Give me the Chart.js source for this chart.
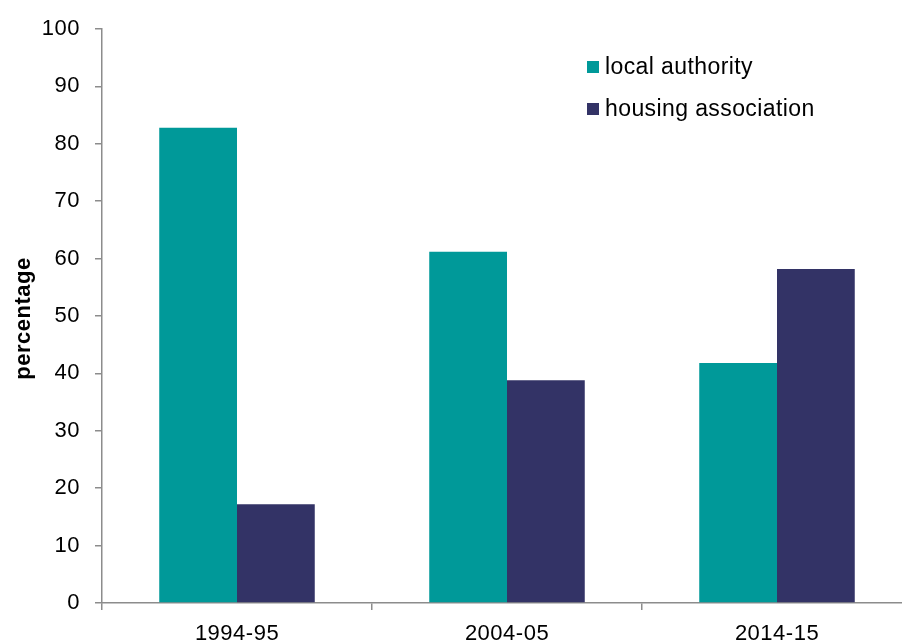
<!DOCTYPE html>
<html>
<head>
<meta charset="utf-8">
<script src="https://cdn.jsdelivr.net/npm/chart.js@4/dist/chart.umd.min.js"></script>
<style>
  html, body { margin: 0; padding: 0; background: #fff; overflow: hidden; }
  #wrap { position: relative; width: 912px; height: 643px; }
</style>
</head>
<body>
<div id="wrap"><canvas id="c"></canvas></div>
<script>
// Share of social rented households by landlord type
const categories = ['1994-95', '2004-05', '2014-15'];
const localAuthority = [82.8, 61.2, 41.8];
const housingAssociation = [17.2, 38.8, 58.2];
const seriesNames = ['local authority', 'housing association'];
const seriesColors = ['#009999', '#333366'];
const yTicks = [0, 10, 20, 30, 40, 50, 60, 70, 80, 90, 100];
const yTitle = 'percentage';

const FONT = 'Liberation Sans, Arial, sans-serif';
const AXIS = '#8c8c8c';

// Slightly open letter spacing for the axis text
const textSpacing = {
  id: 'textSpacing',
  beforeDraw(chart) { chart.ctx.letterSpacing = '0.5px'; }
};

// Legend inside the plot area (upper right) and the rotated y-axis title
const annotations = {
  id: 'annotations',
  afterDraw(chart) {
    const ctx = chart.ctx;
    ctx.save();
    ctx.letterSpacing = '0.4px';
    ctx.font = '23px ' + FONT;
    ctx.textBaseline = 'middle';
    ctx.textAlign = 'left';
    chart.data.datasets.forEach((ds, i) => {
      const y = 67 + i * 42;
      ctx.fillStyle = ds.backgroundColor;
      ctx.fillRect(587, y - 6, 12, 12);
      ctx.fillStyle = '#000';
      ctx.fillText(ds.label, 605, y + 1);
    });
    ctx.restore();

    ctx.save();
    ctx.letterSpacing = '0.5px';
    ctx.font = 'bold 22px ' + FONT;
    ctx.fillStyle = '#000';
    ctx.textAlign = 'center';
    ctx.textBaseline = 'middle';
    ctx.translate(24, 318.5);
    ctx.rotate(-Math.PI / 2);
    ctx.fillText(yTitle, 0, 0);
    ctx.restore();
    chart.ctx.letterSpacing = '0px';
  }
};

new Chart(document.getElementById('c'), {
  type: 'bar',
  data: {
    labels: categories,
    datasets: [
      { label: seriesNames[0], data: localAuthority, backgroundColor: seriesColors[0] },
      { label: seriesNames[1], data: housingAssociation, backgroundColor: seriesColors[1] }
    ]
  },
  options: {
    responsive: true,
    maintainAspectRatio: false,
    animation: false,
    layout: { padding: { top: 29, right: 0, left: 0, bottom: 0 } },
    datasets: { bar: { barPercentage: 1.0, categoryPercentage: 0.576, borderWidth: 0 } },
    plugins: { legend: { display: false }, tooltip: { enabled: false } },
    scales: {
      x: {
        grid: { offset: true, drawOnChartArea: false, drawTicks: true, tickLength: 7, color: AXIS, lineWidth: 1.5 },
        border: { color: AXIS, width: 1.5 },
        ticks: { font: { family: FONT, size: 22 }, color: '#000', padding: 11 },
        afterFit(scale) { scale.height = 40; }
      },
      y: {
        min: 0, max: 100,
        afterBuildTicks(scale) { scale.ticks = yTicks.map(v => ({ value: v })); },
        grid: { drawOnChartArea: false, drawTicks: true, tickLength: 7, color: AXIS, lineWidth: 1.5 },
        border: { color: AXIS, width: 1.5 },
        ticks: { font: { family: FONT, size: 22 }, color: '#000', padding: 15 },
        afterFit(scale) { scale.width = 102; }
      }
    }
  },
  plugins: [textSpacing, annotations]
});
</script>
</body>
</html>
